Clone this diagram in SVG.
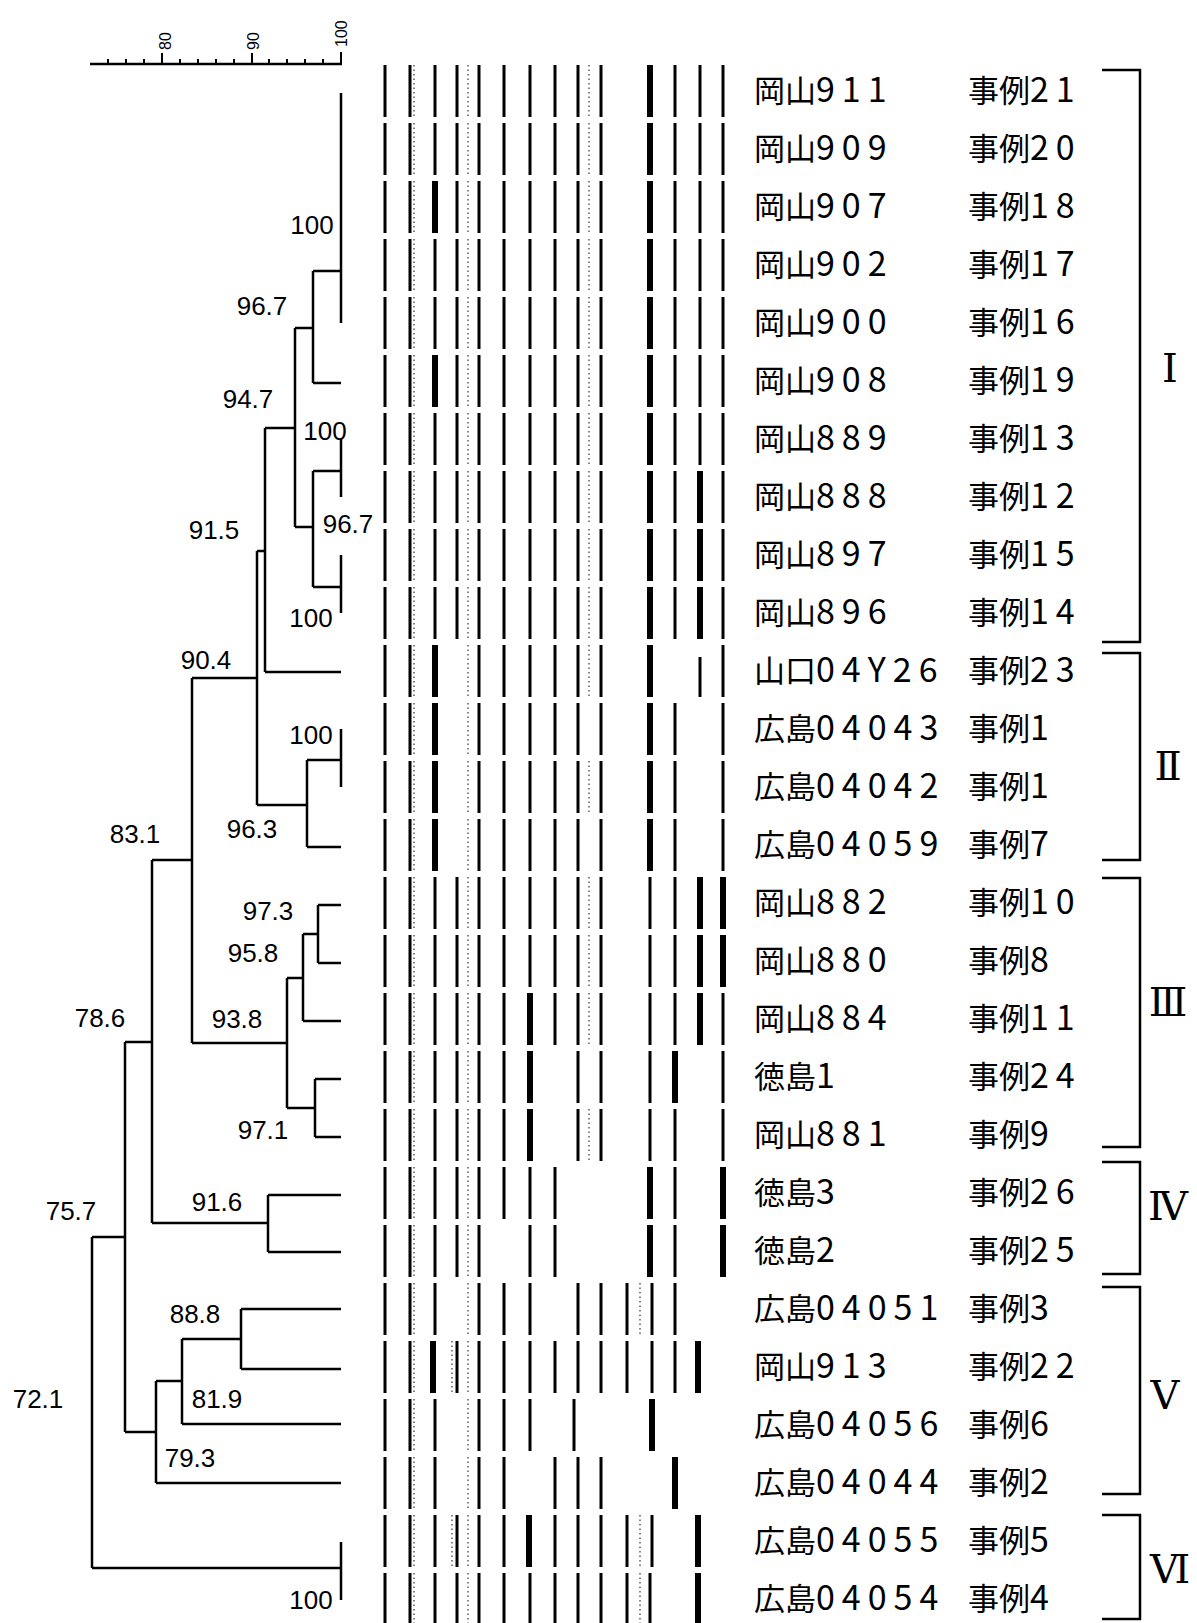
<svg xmlns="http://www.w3.org/2000/svg" width="1197" height="1623" viewBox="0 0 1197 1623">
<style>
.b{stroke:#000;stroke-width:3;fill:none}
.t{stroke:#000;stroke-width:6;fill:none}
.d{stroke:#333;stroke-width:1.2;stroke-dasharray:1.5 3;fill:none}
.nm{font-family:"Noto Sans CJK JP","Noto Sans CJK SC",sans-serif;font-size:31px;fill:#000}
.dg{font-size:34px;letter-spacing:7px}
.v{font-family:"Liberation Sans",Arial,sans-serif;font-size:26px;fill:#000;text-anchor:middle}
.ax{font-family:"Liberation Sans",Arial,sans-serif;font-size:16px;fill:#000}
.rn{font-family:"DejaVu Serif","Noto Sans CJK JP",serif;font-size:40px;fill:#000;text-anchor:middle}
</style>
<rect width="1197" height="1623" fill="#fff"/>
<g id="axis" stroke="#000" fill="none">
<path d="M90 64H342" stroke-width="2.5"/>
<path d="M108 64v-5M126 64v-5M144 64v-5M180 64v-5M198 64v-5M216 64v-5M234 64v-5M269 64v-5M287 64v-5M305 64v-5M323 64v-5" stroke-width="2"/>
<path d="M162 64v-11M252 64v-11M341 64v-12" stroke-width="2"/>
<text class="ax" stroke="none" transform="translate(171,50) rotate(-90)">80</text>
<text class="ax" stroke="none" transform="translate(259,50) rotate(-90)">90</text>
<text class="ax" stroke="none" transform="translate(347,47) rotate(-90)">100</text>
</g>
<g id="connectors" stroke="#000" stroke-width="2.5" fill="none">
<path d="M341 93V323M313 271H341M313 383H341M313 271V383M295 328H313M341 439V497M313 471H341M341 555V613M313 587H341M313 471V587M295 527H313M295 328V527M265 428H295M265 672H341M265 428V672M257 551H265M341 729V787M307 760H341M307 847H341M307 760V847M257 805H307M257 551V805M192 678H257M318 905V963M318 905H341M318 963H341M303 934H318M303 1021H341M303 934V1021M287 978H303M315 1079V1137M315 1079H341M315 1137H341M287 1108H315M287 978V1108M192 1043H287M192 678V1043M152 860H192M268 1195V1252M268 1195H341M268 1252H341M152 1223H268M152 860V1223M125 1042H152M241 1309V1369M241 1309H341M241 1369H341M182 1339H241M182 1424H341M182 1339V1424M156 1381H182M156 1483H341M156 1381V1483M125 1432H156M125 1042V1432M92 1237H125M341 1542V1600M92 1568H341M92 1237V1568"/>
</g>
<g id="similarity">
<text class="v" x="312" y="234">100</text>
<text class="v" x="262" y="315">96.7</text>
<text class="v" x="248" y="408">94.7</text>
<text class="v" x="325" y="440">100</text>
<text class="v" x="348" y="533">96.7</text>
<text class="v" x="214" y="539">91.5</text>
<text class="v" x="311" y="627">100</text>
<text class="v" x="206" y="669">90.4</text>
<text class="v" x="311" y="744">100</text>
<text class="v" x="252" y="838">96.3</text>
<text class="v" x="135" y="843">83.1</text>
<text class="v" x="268" y="920">97.3</text>
<text class="v" x="253" y="962">95.8</text>
<text class="v" x="100" y="1027">78.6</text>
<text class="v" x="237" y="1028">93.8</text>
<text class="v" x="263" y="1139">97.1</text>
<text class="v" x="217" y="1211">91.6</text>
<text class="v" x="71" y="1220">75.7</text>
<text class="v" x="195" y="1323">88.8</text>
<text class="v" x="217" y="1408">81.9</text>
<text class="v" x="38" y="1408">72.1</text>
<text class="v" x="190" y="1467">79.3</text>
<text class="v" x="311" y="1609">100</text>
</g>
<g id="r01" transform="translate(0,65)"><path class="b" d="M385 0v52M410 0v52M435 0v52M457 0v52M479 0v52M504 0v52M530 0v52M555 0v52M578 0v52M601 0v52M675 0v52M700 0v52M723 0v52"/><path class="t" d="M650 0v52"/><path class="d" d="M414 0v52M468 0v52M589 0v52"/><text class="nm" x="754" y="37">岡山<tspan class="dg">911</tspan></text><text class="nm" x="968" y="37">事例<tspan class="dg">21</tspan></text></g>
<g id="r02" transform="translate(0,123)"><path class="b" d="M385 0v52M410 0v52M435 0v52M457 0v52M479 0v52M504 0v52M530 0v52M555 0v52M578 0v52M601 0v52M675 0v52M700 0v52M723 0v52"/><path class="t" d="M650 0v52"/><path class="d" d="M414 0v52M468 0v52M589 0v52"/><text class="nm" x="754" y="37">岡山<tspan class="dg">909</tspan></text><text class="nm" x="968" y="37">事例<tspan class="dg">20</tspan></text></g>
<g id="r03" transform="translate(0,181)"><path class="b" d="M385 0v52M410 0v52M457 0v52M479 0v52M504 0v52M530 0v52M555 0v52M578 0v52M601 0v52M675 0v52M700 0v52M723 0v52"/><path class="t" d="M435 0v52M650 0v52"/><path class="d" d="M414 0v52M468 0v52M589 0v52"/><text class="nm" x="754" y="37">岡山<tspan class="dg">907</tspan></text><text class="nm" x="968" y="37">事例<tspan class="dg">18</tspan></text></g>
<g id="r04" transform="translate(0,239)"><path class="b" d="M385 0v52M410 0v52M435 0v52M457 0v52M479 0v52M504 0v52M530 0v52M555 0v52M578 0v52M601 0v52M675 0v52M700 0v52M723 0v52"/><path class="t" d="M650 0v52"/><path class="d" d="M414 0v52M468 0v52M589 0v52"/><text class="nm" x="754" y="37">岡山<tspan class="dg">902</tspan></text><text class="nm" x="968" y="37">事例<tspan class="dg">17</tspan></text></g>
<g id="r05" transform="translate(0,297)"><path class="b" d="M385 0v52M410 0v52M435 0v52M457 0v52M479 0v52M504 0v52M530 0v52M555 0v52M578 0v52M601 0v52M675 0v52M700 0v52M723 0v52"/><path class="t" d="M650 0v52"/><path class="d" d="M414 0v52M468 0v52M589 0v52"/><text class="nm" x="754" y="37">岡山<tspan class="dg">900</tspan></text><text class="nm" x="968" y="37">事例<tspan class="dg">16</tspan></text></g>
<g id="r06" transform="translate(0,355)"><path class="b" d="M385 0v52M410 0v52M457 0v52M479 0v52M504 0v52M530 0v52M555 0v52M578 0v52M601 0v52M675 0v52M700 0v52M723 0v52"/><path class="t" d="M435 0v52M650 0v52"/><path class="d" d="M414 0v52M468 0v52M589 0v52"/><text class="nm" x="754" y="37">岡山<tspan class="dg">908</tspan></text><text class="nm" x="968" y="37">事例<tspan class="dg">19</tspan></text></g>
<g id="r07" transform="translate(0,413)"><path class="b" d="M385 0v52M410 0v52M435 0v52M457 0v52M479 0v52M504 0v52M530 0v52M555 0v52M578 0v52M601 0v52M675 0v52M700 0v52M723 0v52"/><path class="t" d="M650 0v52"/><path class="d" d="M414 0v52M468 0v52M589 0v52"/><text class="nm" x="754" y="37">岡山<tspan class="dg">889</tspan></text><text class="nm" x="968" y="37">事例<tspan class="dg">13</tspan></text></g>
<g id="r08" transform="translate(0,471)"><path class="b" d="M385 0v52M410 0v52M435 0v52M457 0v52M479 0v52M504 0v52M530 0v52M555 0v52M578 0v52M601 0v52M675 0v52M723 0v52"/><path class="t" d="M650 0v52M700 0v52"/><path class="d" d="M414 0v52M468 0v52M589 0v52"/><text class="nm" x="754" y="37">岡山<tspan class="dg">888</tspan></text><text class="nm" x="968" y="37">事例<tspan class="dg">12</tspan></text></g>
<g id="r09" transform="translate(0,529)"><path class="b" d="M385 0v52M410 0v52M435 0v52M457 0v52M479 0v52M504 0v52M530 0v52M555 0v52M578 0v52M601 0v52M675 0v52M723 0v52"/><path class="t" d="M650 0v52M700 0v52"/><path class="d" d="M414 0v52M468 0v52M589 0v52"/><text class="nm" x="754" y="37">岡山<tspan class="dg">897</tspan></text><text class="nm" x="968" y="37">事例<tspan class="dg">15</tspan></text></g>
<g id="r10" transform="translate(0,587)"><path class="b" d="M385 0v52M410 0v52M435 0v52M457 0v52M479 0v52M504 0v52M530 0v52M555 0v52M578 0v52M601 0v52M675 0v52M723 0v52"/><path class="t" d="M650 0v52M700 0v52"/><path class="d" d="M414 0v52M468 0v52M589 0v52"/><text class="nm" x="754" y="37">岡山<tspan class="dg">896</tspan></text><text class="nm" x="968" y="37">事例<tspan class="dg">14</tspan></text></g>
<g id="r11" transform="translate(0,645)"><path class="b" d="M385 0v52M410 0v52M479 0v52M504 0v52M530 0v52M555 0v52M578 0v52M601 0v52M723 0v52M700 12v40"/><path class="t" d="M435 0v52M650 0v52"/><path class="d" d="M414 0v52M468 0v52M589 0v52"/><text class="nm" x="754" y="37">山口<tspan class="dg">04Y26</tspan></text><text class="nm" x="968" y="37">事例<tspan class="dg">23</tspan></text></g>
<g id="r12" transform="translate(0,703)"><path class="b" d="M385 0v52M410 0v52M479 0v52M504 0v52M530 0v52M555 0v52M578 0v52M601 0v52M675 0v52M723 0v52"/><path class="t" d="M435 0v52M650 0v52"/><path class="d" d="M414 0v52M468 0v52"/><text class="nm" x="754" y="37">広島<tspan class="dg">04043</tspan></text><text class="nm" x="968" y="37">事例<tspan class="dg">1</tspan></text></g>
<g id="r13" transform="translate(0,761)"><path class="b" d="M385 0v52M410 0v52M479 0v52M504 0v52M530 0v52M555 0v52M578 0v52M601 0v52M675 0v52M723 0v52"/><path class="t" d="M435 0v52M650 0v52"/><path class="d" d="M414 0v52M468 0v52M589 0v52"/><text class="nm" x="754" y="37">広島<tspan class="dg">04042</tspan></text><text class="nm" x="968" y="37">事例<tspan class="dg">1</tspan></text></g>
<g id="r14" transform="translate(0,819)"><path class="b" d="M385 0v52M410 0v52M479 0v52M504 0v52M530 0v52M555 0v52M578 0v52M601 0v52M675 0v52M723 0v52"/><path class="t" d="M435 0v52M650 0v52"/><path class="d" d="M414 0v52M468 0v52"/><text class="nm" x="754" y="37">広島<tspan class="dg">04059</tspan></text><text class="nm" x="968" y="37">事例<tspan class="dg">7</tspan></text></g>
<g id="r15" transform="translate(0,877)"><path class="b" d="M385 0v52M410 0v52M435 0v52M457 0v52M479 0v52M504 0v52M530 0v52M555 0v52M578 0v52M601 0v52M650 0v52M675 0v52"/><path class="t" d="M700 0v52M723 0v52"/><path class="d" d="M414 0v52M468 0v52M589 0v52"/><text class="nm" x="754" y="37">岡山<tspan class="dg">882</tspan></text><text class="nm" x="968" y="37">事例<tspan class="dg">10</tspan></text></g>
<g id="r16" transform="translate(0,935)"><path class="b" d="M385 0v52M410 0v52M435 0v52M457 0v52M479 0v52M504 0v52M530 0v52M555 0v52M578 0v52M601 0v52M650 0v52M675 0v52"/><path class="t" d="M700 0v52M723 0v52"/><path class="d" d="M414 0v52M468 0v52M589 0v52"/><text class="nm" x="754" y="37">岡山<tspan class="dg">880</tspan></text><text class="nm" x="968" y="37">事例<tspan class="dg">8</tspan></text></g>
<g id="r17" transform="translate(0,993)"><path class="b" d="M385 0v52M410 0v52M435 0v52M457 0v52M479 0v52M504 0v52M555 0v52M578 0v52M601 0v52M650 0v52M675 0v52M723 0v52"/><path class="t" d="M530 0v52M700 0v52"/><path class="d" d="M414 0v52M468 0v52M589 0v52"/><text class="nm" x="754" y="37">岡山<tspan class="dg">884</tspan></text><text class="nm" x="968" y="37">事例<tspan class="dg">11</tspan></text></g>
<g id="r18" transform="translate(0,1051)"><path class="b" d="M385 0v52M410 0v52M435 0v52M457 0v52M479 0v52M504 0v52M578 0v52M601 0v52M650 0v52M723 0v52"/><path class="t" d="M530 0v52M675 0v52"/><path class="d" d="M414 0v52M468 0v52"/><text class="nm" x="754" y="37">徳島<tspan class="dg">1</tspan></text><text class="nm" x="968" y="37">事例<tspan class="dg">24</tspan></text></g>
<g id="r19" transform="translate(0,1109)"><path class="b" d="M385 0v52M410 0v52M435 0v52M457 0v52M479 0v52M504 0v52M578 0v52M601 0v52M650 0v52M675 0v52M723 0v52"/><path class="t" d="M530 0v52"/><path class="d" d="M414 0v52M468 0v52M589 0v52"/><text class="nm" x="754" y="37">岡山<tspan class="dg">881</tspan></text><text class="nm" x="968" y="37">事例<tspan class="dg">9</tspan></text></g>
<g id="r20" transform="translate(0,1167)"><path class="b" d="M385 0v52M410 0v52M435 0v52M457 0v52M479 0v52M504 0v52M530 0v52M555 0v52M675 0v52"/><path class="t" d="M650 0v52M723 0v52"/><path class="d" d="M414 0v52M468 0v52"/><text class="nm" x="754" y="37">徳島<tspan class="dg">3</tspan></text><text class="nm" x="968" y="37">事例<tspan class="dg">26</tspan></text></g>
<g id="r21" transform="translate(0,1225)"><path class="b" d="M385 0v52M410 0v52M435 0v52M457 0v52M479 0v52M530 0v52M555 0v52M675 0v52"/><path class="t" d="M650 0v52M723 0v52"/><path class="d" d="M414 0v52M468 0v52"/><text class="nm" x="754" y="37">徳島<tspan class="dg">2</tspan></text><text class="nm" x="968" y="37">事例<tspan class="dg">25</tspan></text></g>
<g id="r22" transform="translate(0,1283)"><path class="b" d="M385 0v52M410 0v52M435 0v52M479 0v52M504 0v52M530 0v52M578 0v52M601 0v52M627 0v52M652 0v52M675 0v52"/><path class="d" d="M414 0v52M468 0v52M640 0v52"/><text class="nm" x="754" y="37">広島<tspan class="dg">04051</tspan></text><text class="nm" x="968" y="37">事例<tspan class="dg">3</tspan></text></g>
<g id="r23" transform="translate(0,1341)"><path class="b" d="M385 0v52M410 0v52M457 0v52M479 0v52M504 0v52M530 0v52M555 0v52M578 0v52M601 0v52M627 0v52M652 0v52M675 0v52"/><path class="t" d="M433 0v52M698 0v52"/><path class="d" d="M414 0v52M452 0v52M468 0v52"/><text class="nm" x="754" y="37">岡山<tspan class="dg">913</tspan></text><text class="nm" x="968" y="37">事例<tspan class="dg">22</tspan></text></g>
<g id="r24" transform="translate(0,1399)"><path class="b" d="M385 0v52M410 0v52M435 0v52M479 0v52M504 0v52M530 0v52M574 0v52"/><path class="t" d="M652 0v52"/><path class="d" d="M414 0v52M468 0v52"/><text class="nm" x="754" y="37">広島<tspan class="dg">04056</tspan></text><text class="nm" x="968" y="37">事例<tspan class="dg">6</tspan></text></g>
<g id="r25" transform="translate(0,1457)"><path class="b" d="M385 0v52M410 0v52M435 0v52M479 0v52M504 0v52M555 0v52M578 0v52M601 0v52"/><path class="t" d="M675 0v52"/><path class="d" d="M414 0v52M468 0v52"/><text class="nm" x="754" y="37">広島<tspan class="dg">04044</tspan></text><text class="nm" x="968" y="37">事例<tspan class="dg">2</tspan></text></g>
<g id="r26" transform="translate(0,1515)"><path class="b" d="M385 0v52M410 0v52M435 0v52M457 0v52M479 0v52M504 0v52M555 0v52M578 0v52M601 0v52M627 0v52M652 0v52"/><path class="t" d="M529 0v52M698 0v52"/><path class="d" d="M414 0v52M452 0v52M468 0v52M640 0v52"/><text class="nm" x="754" y="37">広島<tspan class="dg">04055</tspan></text><text class="nm" x="968" y="37">事例<tspan class="dg">5</tspan></text></g>
<g id="r27" transform="translate(0,1573)"><path class="b" d="M385 0v50M410 0v50M435 0v50M457 0v50M479 0v50M504 0v50M530 0v50M555 0v50M578 0v50M601 0v50M627 0v50M650 0v50"/><path class="t" d="M698 0v50"/><path class="d" d="M414 0v50M468 0v50M640 0v50"/><text class="nm" x="754" y="37">広島<tspan class="dg">04054</tspan></text><text class="nm" x="968" y="37">事例<tspan class="dg">4</tspan></text></g>
<g id="brackets" stroke="#000" stroke-width="2.5" fill="none">
<path d="M1102 70H1140V642H1102"/>
<path d="M1102 653H1140V860H1102"/>
<path d="M1102 878H1140V1147H1102"/>
<path d="M1102 1162H1140V1274H1102"/>
<path d="M1102 1287H1140V1494H1102"/>
<path d="M1102 1515H1140V1619H1102"/>
</g>
<g id="groups">
<text class="rn" x="1170" y="382">Ⅰ</text>
<text class="rn" x="1168" y="780">Ⅱ</text>
<text class="rn" x="1168" y="1016">Ⅲ</text>
<text class="rn" x="1168" y="1220">Ⅳ</text>
<text class="rn" x="1165" y="1409">Ⅴ</text>
<text class="rn" x="1170" y="1583">Ⅵ</text>
</g>
</svg>
